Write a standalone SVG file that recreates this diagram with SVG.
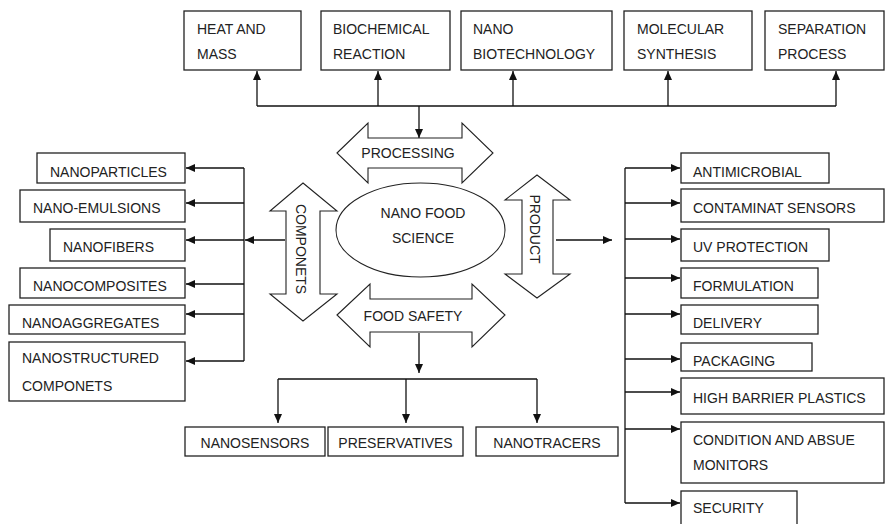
<svg xmlns="http://www.w3.org/2000/svg" width="886" height="524" viewBox="0 0 886 524">
<style>
.box{fill:#fff;stroke:#222;stroke-width:1.3}
.big{fill:#fff;stroke:#222;stroke-width:1.1}
.t{font-family:"Liberation Sans",Arial,sans-serif;font-size:14px;fill:#222}
.m{text-anchor:middle}
.c{fill:none;stroke:#111;stroke-width:1.3}
</style>
<defs>
<marker id="ah" markerUnits="userSpaceOnUse" markerWidth="10" markerHeight="9" refX="9" refY="4" orient="auto">
<path d="M0,0 L9,4 L0,8 z" fill="#111"/>
</marker>
</defs>
<rect width="886" height="524" fill="#fff"/>

<g id="connectors">
<path class="c" d="M257,106 H836"/>
<path class="c" marker-end="url(#ah)" d="M257,106 V71"/>
<path class="c" marker-end="url(#ah)" d="M378,106 V71"/>
<path class="c" marker-end="url(#ah)" d="M513,106 V71"/>
<path class="c" marker-end="url(#ah)" d="M668,106 V71"/>
<path class="c" marker-end="url(#ah)" d="M836,106 V71"/>
<path class="c" marker-end="url(#ah)" d="M419,106 V138"/>

<path class="c" d="M244,168 V361"/>
<path class="c" marker-end="url(#ah)" d="M244,168 H186"/>
<path class="c" marker-end="url(#ah)" d="M244,203 H186"/>
<path class="c" marker-end="url(#ah)" d="M244,240 H186"/>
<path class="c" marker-end="url(#ah)" d="M244,284 H186"/>
<path class="c" marker-end="url(#ah)" d="M244,314 H186"/>
<path class="c" marker-end="url(#ah)" d="M244,361 H186"/>
<path class="c" marker-end="url(#ah)" d="M285,240 H245"/>

<path class="c" marker-end="url(#ah)" d="M556,240 H612"/>
<path class="c" d="M625,168 V503"/>
<path class="c" marker-end="url(#ah)" d="M625,168 H680"/>
<path class="c" marker-end="url(#ah)" d="M625,203 H680"/>
<path class="c" marker-end="url(#ah)" d="M625,239 H680"/>
<path class="c" marker-end="url(#ah)" d="M625,278 H680"/>
<path class="c" marker-end="url(#ah)" d="M625,314 H680"/>
<path class="c" marker-end="url(#ah)" d="M625,359 H680"/>
<path class="c" marker-end="url(#ah)" d="M625,392 H680"/>
<path class="c" marker-end="url(#ah)" d="M625,429 H680"/>
<path class="c" marker-end="url(#ah)" d="M625,503 H680"/>

<path class="c" marker-end="url(#ah)" d="M419,333 V373"/>
<path class="c" d="M278,379 H537"/>
<path class="c" marker-end="url(#ah)" d="M278,379 V423"/>
<path class="c" marker-end="url(#ah)" d="M406,379 V423"/>
<path class="c" marker-end="url(#ah)" d="M537,379 V423"/>
</g>

<g id="heat-mass"><rect class="box" x="184" y="11" width="117" height="59"/><text class="t" x="197" y="34">HEAT AND</text><text class="t" x="197" y="59">MASS</text></g>
<g id="biochemical"><rect class="box" x="321" y="11" width="129" height="59"/><text class="t" x="333" y="34">BIOCHEMICAL</text><text class="t" x="333" y="59">REACTION</text></g>
<g id="nanobiotech"><rect class="box" x="461" y="11" width="151" height="59"/><text class="t" x="473" y="34">NANO</text><text class="t" x="473" y="59">BIOTECHNOLOGY</text></g>
<g id="molecular"><rect class="box" x="624" y="11" width="128" height="59"/><text class="t" x="637" y="34">MOLECULAR</text><text class="t" x="637" y="59">SYNTHESIS</text></g>
<g id="separation"><rect class="box" x="765" y="11" width="119" height="59"/><text class="t" x="778" y="34">SEPARATION</text><text class="t" x="778" y="59">PROCESS</text></g>

<g id="processing"><path class="big" d="M337,153 L368,123 V138 H462 V123 L493,153 L462,183 V168 H368 V183 Z"/><text class="t m" x="408" y="158">PROCESSING</text></g>
<g id="components"><path class="big" d="M303,183 L337,211 H320 V294 H337 L303,321 L270,294 H286 V211 H270 Z"/><text class="t m" transform="translate(296,249) rotate(90)">COMPONETS</text></g>
<g id="product"><path class="big" d="M537,175 L570,200 H553 V274 H570 L537,298 L505,274 H522 V200 H505 Z"/><text class="t m" transform="translate(530,229) rotate(90)">PRODUCT</text></g>
<g id="foodsafety"><path class="big" d="M337,315 L370,284 V299 H472 V284 L505,315 L472,347 V332 H370 V347 Z"/><text class="t m" x="413" y="321">FOOD SAFETY</text></g>
<g id="center"><ellipse class="big" cx="420.5" cy="230" rx="84.5" ry="47"/><text class="t m" x="423" y="218">NANO FOOD</text><text class="t m" x="423" y="243">SCIENCE</text></g>

<g id="nanoparticles"><rect class="box" x="37" y="153" width="148" height="30"/><text class="t" x="50" y="177">NANOPARTICLES</text></g>
<g id="nanoemulsions"><rect class="box" x="20" y="190" width="165" height="32"/><text class="t" x="33" y="213">NANO-EMULSIONS</text></g>
<g id="nanofibers"><rect class="box" x="50" y="229" width="135" height="32"/><text class="t" x="63" y="252">NANOFIBERS</text></g>
<g id="nanocomposites"><rect class="box" x="20" y="268" width="165" height="30"/><text class="t" x="33" y="291">NANOCOMPOSITES</text></g>
<g id="nanoaggregates"><rect class="box" x="9" y="305" width="176" height="29"/><text class="t" x="22" y="328">NANOAGGREGATES</text></g>
<g id="nanostructured"><rect class="box" x="9" y="342" width="176" height="59"/><text class="t" x="22" y="363">NANOSTRUCTURED</text><text class="t" x="22" y="391">COMPONETS</text></g>

<g id="antimicrobial"><rect class="box" x="681" y="153" width="148" height="30"/><text class="t" x="693" y="177">ANTIMICROBIAL</text></g>
<g id="contaminat"><rect class="box" x="681" y="189" width="203" height="33"/><text class="t" x="693" y="213">CONTAMINAT SENSORS</text></g>
<g id="uvprotection"><rect class="box" x="681" y="229" width="148" height="32"/><text class="t" x="693" y="252">UV PROTECTION</text></g>
<g id="formulation"><rect class="box" x="681" y="268" width="137" height="30"/><text class="t" x="693" y="291">FORMULATION</text></g>
<g id="delivery"><rect class="box" x="681" y="305" width="137" height="29"/><text class="t" x="693" y="328">DELIVERY</text></g>
<g id="packaging"><rect class="box" x="681" y="343" width="131" height="28"/><text class="t" x="693" y="366">PACKAGING</text></g>
<g id="highbarrier"><rect class="box" x="681" y="378" width="203" height="36"/><text class="t" x="693" y="403">HIGH BARRIER PLASTICS</text></g>
<g id="condition"><rect class="box" x="681" y="422" width="203" height="61"/><text class="t" x="693" y="445">CONDITION AND ABSUE</text><text class="t" x="693" y="470">MONITORS</text></g>
<g id="security"><rect class="box" x="681" y="491" width="116" height="40"/><text class="t" x="693" y="513">SECURITY</text></g>

<g id="nanosensors"><rect class="box" x="185" y="427" width="140" height="29"/><text class="t m" x="255" y="448">NANOSENSORS</text></g>
<g id="preservatives"><rect class="box" x="328" y="427" width="135" height="29"/><text class="t m" x="395.5" y="448">PRESERVATIVES</text></g>
<g id="nanotracers"><rect class="box" x="476" y="427" width="142" height="29"/><text class="t m" x="547" y="448">NANOTRACERS</text></g>
</svg>
